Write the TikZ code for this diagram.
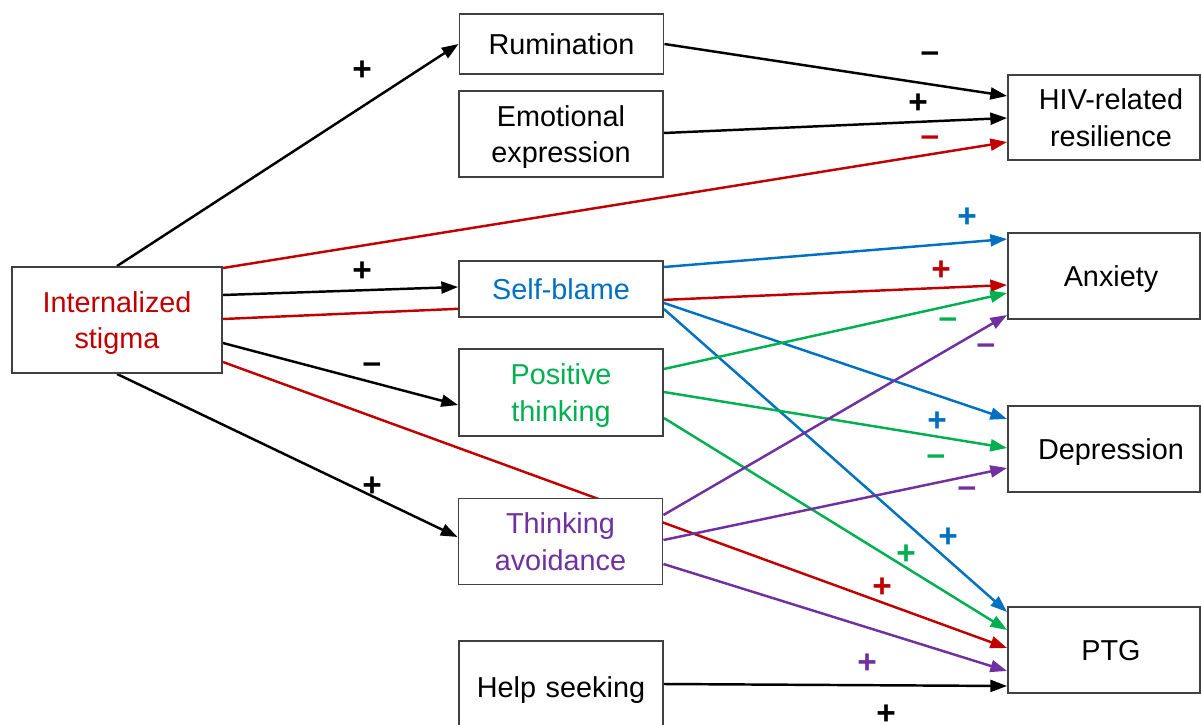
\documentclass[tikz,border=0pt]{standalone}
\usepackage{fontspec}
\setmainfont{Liberation Sans}
\usetikzlibrary{arrows.meta}
\pgfdeclarelayer{background}
\pgfsetlayers{background,main}
\definecolor{cred}{HTML}{C00000}
\definecolor{cblue}{HTML}{0070C0}
\definecolor{cgreen}{HTML}{00B050}
\definecolor{cpurple}{HTML}{7030A0}
\definecolor{boxgray}{HTML}{404040}
% indent that sets outcome labels a little right of the box centre
\newcommand{\rind}{\hspace*{0.28cm}}
\begin{document}
\begin{tikzpicture}[x=0.02cm,y=-0.02cm,
  box/.style={draw=boxgray,line width=1.1pt,fill=white,align=center,inner sep=0pt,
    text depth=0pt,font=\fontsize{16.4}{20.6}\selectfont},
  leftbox/.style={box,minimum width=4.08cm},
  rightbox/.style={box,minimum width=3.84cm,minimum height=1.72cm},
  link/.style={line width=1.4pt,-{Triangle[length=9.5pt,width=6.8pt]}},
  signlbl/.style={inner sep=0pt,font=\fontsize{19}{19}\bfseries\selectfont}
]
\useasboundingbox (0,0) rectangle (1201,724);
\clip (0,0) rectangle (1201,724);

% predictor
\node[box,minimum width=4.2cm,minimum height=2.12cm,text=cred] (stig) at (117,320) {Internalized\\stigma};

% coping strategies
\node[leftbox,minimum height=1.2cm]  (rum) at (561.5,44)  {Rumination};
\node[leftbox,minimum height=1.72cm] (emo) at (561,134)   {Emotional\\expression};
\node[leftbox,minimum height=1.12cm,text=cblue]   (sb) at (561,289)   {Self-blame};
\node[leftbox,minimum height=1.74cm,text=cgreen]  (pt) at (561,392.5) {Positive\\thinking};
\node[leftbox,minimum height=1.72cm,text=cpurple] (ta) at (560.5,541.5) {Thinking\\avoidance};
\node[leftbox,minimum height=1.84cm] (hs) at (561,687) {Help\,\,seeking};

% outcomes
\node[rightbox,minimum height=1.7cm] (hiv) at (1104,117.5) {\rind HIV-related\\\rind resilience};
\node[rightbox] (anx) at (1104,276) {\rind Anxiety};
\node[rightbox] (dep) at (1104,449) {\rind Depression};
\node[rightbox] (ptg) at (1104,650) {\rind PTG};

\begin{pgfonlayer}{background}
  % black paths
  \draw[link] (stig.north) -- (rum.west);
  \draw[link] (stig.east |- 0,295) -- (sb.west |- 0,287);
  \draw[link] (stig.east |- 0,343) -- (pt.west |- 0,405);
  \draw[link] (stig.south) -- (ta.west |- 0,537);
  \draw[link] (rum.east) -- (hiv.west |- 0,96);
  \draw[link] (emo.east |- 0,133) -- (hiv.west |- 0,118);
  \draw[link] (hs.east |- 0,684) -- (ptg.west |- 0,686);
  % direct effects of internalized stigma
  \draw[link,cred] (stig.east |- 0,268) -- (hiv.west |- 0,142);
  \draw[link,cred] (stig.east |- 0,319) -- (anx.west |- 0,285);
  \draw[link,cred] (stig.east |- 0,362) -- (ptg.west |- 0,648);
  % self-blame
  \draw[link,cblue] (sb.east |- 0,267) -- (anx.west |- 0,239);
  \draw[link,cblue] (sb.east |- 0,303) -- (dep.west |- 0,419);
  \draw[link,cblue] (sb.east |- 0,309) -- (ptg.west |- 0,612);
  % positive thinking
  \draw[link,cgreen] (pt.east |- 0,369) -- (anx.west |- 0,293);
  \draw[link,cgreen] (pt.east |- 0,392) -- (dep.west |- 0,448);
  \draw[link,cgreen] (pt.east |- 0,418) -- (ptg.west |- 0,630);
  % thinking avoidance
  \draw[link,cpurple] (ta.east |- 0,515) -- (anx.west |- 0,315);
  \draw[link,cpurple] (ta.east |- 0,540) -- (dep.west |- 0,468);
  \draw[link,cpurple] (ta.east |- 0,564) -- (ptg.west |- 0,671);
\end{pgfonlayer}

% signs of the effects
\node[signlbl] (s1) at (362,71) {+};
\node[signlbl] (s2) at (362,272) {+};
\node[signlbl] (s3) at (372,368) {\textendash};
\node[signlbl] (s4) at (372,487) {+};
\node[signlbl] (s5) at (930,57) {\textendash};
\node[signlbl] (s6) at (918,104) {+};
\node[signlbl] (s7) at (886,715) {+};
\node[signlbl,text=cred] (s8) at (930,141) {\textendash};
\node[signlbl,text=cred] (s9) at (941,271) {+};
\node[signlbl,text=cred] (s10) at (882,588) {+};
\node[signlbl,text=cblue] (s11) at (967,218) {+};
\node[signlbl,text=cblue] (s12) at (937,422) {+};
\node[signlbl,text=cblue] (s13) at (948,538) {+};
\node[signlbl,text=cgreen] (s14) at (948,323) {\textendash};
\node[signlbl,text=cgreen] (s15) at (936,460) {\textendash};
\node[signlbl,text=cgreen] (s16) at (906,555) {+};
\node[signlbl,text=cpurple] (s17) at (986,349) {\textendash};
\node[signlbl,text=cpurple] (s18) at (967,492) {\textendash};
\node[signlbl,text=cpurple] (s19) at (867,664) {+};
\end{tikzpicture}
\end{document}
